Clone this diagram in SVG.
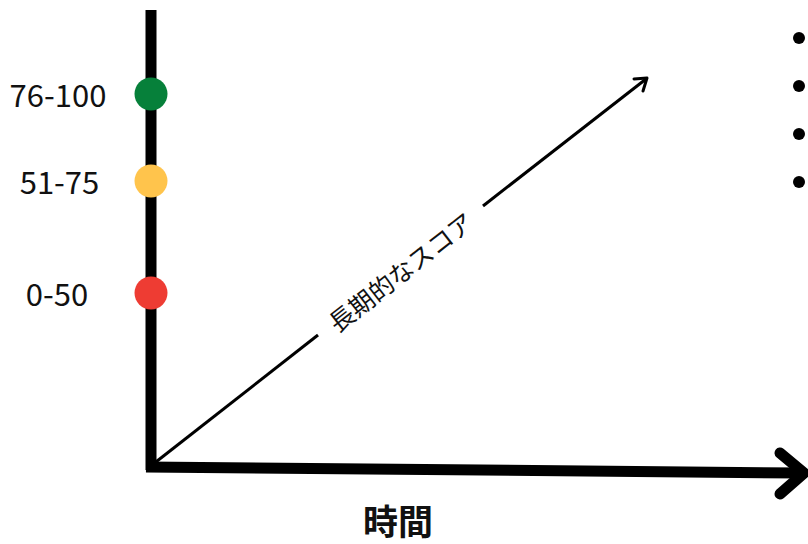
<svg xmlns="http://www.w3.org/2000/svg" width="808" height="544" viewBox="0 0 808 544">
<style>
.lbl{font-family:"Noto Sans CJK JP","Noto Sans",sans-serif;font-size:31px;fill:#111;text-anchor:middle}
.axis{stroke:#000;stroke-width:11;fill:none}
</style>
<rect width="808" height="544" fill="#fff"/>
<g id="connectors">
<line class="axis" x1="151" y1="10" x2="151" y2="470"/>
<line class="axis" x1="146" y1="467" x2="802" y2="473"/>
<polyline points="780,453 804,473 780,494" fill="none" stroke="#000" stroke-width="11" stroke-linecap="round" stroke-linejoin="round"/>
<line x1="152" y1="465" x2="318" y2="335" stroke="#000" stroke-width="3"/>
<line x1="483" y1="206" x2="646" y2="79" stroke="#000" stroke-width="3"/>
<polyline points="634,79 647,78 643,91" fill="none" stroke="#000" stroke-width="3" stroke-linecap="round" stroke-linejoin="round"/>
</g>
<g id="n-green"><circle cx="151" cy="94" r="16.5" fill="#06803A"/><text class="lbl" x="58" y="107">76-100</text></g>
<g id="n-yellow"><circle cx="151" cy="181" r="16.5" fill="#FFC44C"/><text class="lbl" x="59.5" y="194">51-75</text></g>
<g id="n-red"><circle cx="151" cy="293" r="16.5" fill="#EE3C33"/><text class="lbl" x="57" y="306">0-50</text></g>
<g id="n-score"><text x="0" y="0" transform="translate(400,271) rotate(-38)" font-family="'Noto Sans CJK JP',sans-serif" font-size="25" text-anchor="middle" dominant-baseline="central" fill="#111">長期的なスコア</text></g>
<g id="n-time"><text x="398" y="535" font-family="'Noto Sans CJK JP',sans-serif" font-size="35" font-weight="bold" text-anchor="middle" fill="#111">時間</text></g>
<g id="n-bullets" fill="#000">
<circle cx="799" cy="38" r="6"/>
<circle cx="799" cy="86" r="6"/>
<circle cx="799" cy="134" r="6"/>
<circle cx="799" cy="182" r="6"/>
</g>
</svg>
